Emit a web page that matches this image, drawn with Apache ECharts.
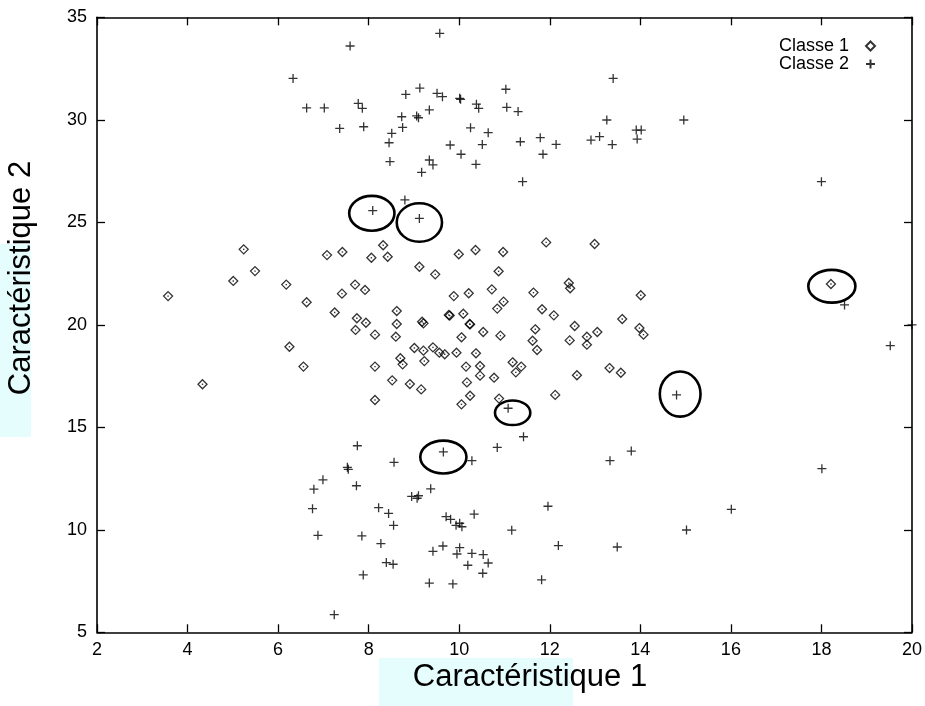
<!DOCTYPE html>
<html>
<head>
<meta charset="utf-8">
<script src="https://cdn.jsdelivr.net/npm/echarts@6/dist/echarts.min.js"></script>
<style>html,body{margin:0;padding:0;background:#fff}#c{width:925px;height:706px}</style>
</head>
<body>
<div id="c"></div>
<script>
// ---------- data ----------
const xTitle = 'Caractéristique 1';
const yTitle = 'Caractéristique 2';
const seriesNames = ['Classe 1', 'Classe 2'];

const classe1 = [
[3.57,21.40],[4.33,17.10],[5.24,23.68],[5.49,22.62],[5.01,22.14],[6.18,21.96],[6.63,21.10],[6.25,18.93],[6.56,17.96],
[7.08,23.40],[7.42,23.55],[8.06,23.27],[8.32,23.88],[8.42,23.32],[7.70,21.96],[7.92,21.70],[7.41,21.52],[7.25,20.60],
[7.74,20.32],[7.94,20.10],[7.71,19.75],[8.14,19.52],[8.14,17.96],[8.14,16.33],[8.52,17.29],
[9.99,23.44],[10.36,23.65],[10.97,23.55],[11.92,24.02],[12.99,23.94],[9.12,22.83],[9.47,22.46],[10.87,22.61],
[12.42,22.04],[12.45,21.78],[11.64,21.57],[10.72,21.73],[9.88,21.40],[10.21,21.54],[10.98,21.13],[10.84,20.79],
[11.83,20.76],[12.09,20.46],[14.01,21.44],[8.62,20.67],[8.62,20.04],[8.60,19.42],[9.18,20.15],[9.21,20.07],
[9.77,20.48],[9.79,20.45],[10.09,20.54],[10.23,20.04],[10.24,20.02],[13.60,20.28],[13.98,19.84],[14.07,19.52],
[12.55,19.94],[11.68,19.78],[10.53,19.65],[10.05,19.39],[10.91,19.47],[11.62,19.22],[11.72,18.77],[12.44,19.24],
[12.82,19.42],[12.82,19.03],[13.05,19.65],[9.01,18.87],[9.21,18.74],[9.42,18.90],[9.56,18.64],[9.68,18.56],
[9.94,18.64],[10.37,18.61],[8.70,18.37],[8.75,18.07],[9.23,18.23],[10.15,17.96],[10.46,17.99],[10.46,17.52],
[10.77,17.42],[11.18,18.17],[11.37,17.96],[11.25,17.68],[12.60,17.54],[13.32,17.89],[13.57,17.66],[8.91,17.11],
[9.16,16.85],[10.17,17.19],[10.24,16.54],[10.05,16.12],[10.88,16.40],[12.12,16.58],[18.21,21.99]
];

const classe2 = [
[7.59,33.60],[6.33,32.02],[6.63,30.58],[7.02,30.58],[7.77,30.80],[7.86,30.56],[7.36,29.58],[7.89,29.66],
[9.57,34.22],[8.82,31.24],[9.13,31.55],[9.51,31.29],[9.63,31.13],[10.01,31.05],[10.03,31.00],[10.38,30.76],
[10.43,30.56],[11.03,31.49],[11.05,30.61],[11.30,30.40],[8.73,30.15],[9.06,30.19],[9.10,30.10],[9.34,30.48],
[8.75,29.63],[8.51,29.34],[8.45,28.88],[8.47,27.96],[10.25,29.61],[10.64,29.37],[9.80,28.77],[10.51,28.79],
[10.04,28.32],[9.34,28.04],[9.42,27.80],[10.37,27.83],[9.17,27.44],[11.35,28.93],[11.79,29.13],[11.85,28.32],
[12.14,28.80],[11.40,26.98],[13.40,32.02],[13.26,29.99],[12.91,29.01],[13.10,29.18],[13.38,28.79],[13.91,29.50],
[14.02,29.50],[13.93,29.06],[8.80,26.09],[14.96,29.99],[18.00,26.98],
[8.09,25.57],[9.12,25.19],[11.08,15.93],[14.80,16.58],[9.65,13.80],
[18.51,20.97],[19.52,18.98],[20.00,20.00],
[7.75,14.10],[7.53,13.05],[7.55,12.95],[6.99,12.44],[6.79,11.98],[7.73,12.15],[6.76,11.03],[6.88,9.73],
[7.85,9.70],[8.22,11.08],[8.44,10.80],[8.27,9.33],[8.39,8.40],[7.88,7.80],[7.24,5.86],
[8.56,13.29],[10.28,13.37],[10.84,14.02],[11.42,14.54],[9.37,12.00],[8.95,11.63],[9.10,11.66],[9.07,11.54],
[8.55,10.22],[8.54,8.32],[9.71,10.64],[9.81,10.51],[9.93,10.22],[10.01,10.32],[10.06,10.15],[10.33,10.76],
[9.42,8.95],[9.64,9.21],[10.01,9.13],[9.95,8.82],[10.28,8.85],[10.53,8.79],[10.64,8.38],[10.19,8.27],
[10.52,7.88],[9.34,7.40],[9.86,7.36],[11.16,9.98],[11.96,11.15],[12.19,9.23],[11.82,7.56],[13.33,13.37],
[13.80,13.84],[13.49,9.16],[18.01,12.98],[16.01,11.00],[15.02,9.99]
];

// highlighted points: [centerX, centerY, radiusX, radiusY] in data units
const ellipses = [
[8.07,25.44,0.50,0.85],
[9.12,24.99,0.50,0.94],
[18.23,21.88,0.52,0.80],
[14.88,16.62,0.45,1.10],
[11.18,15.71,0.39,0.60],
[9.65,13.55,0.51,0.80]
];

const xMin = 2, xMax = 20, xStep = 2;
const yMin = 5, yMax = 35, yStep = 5;

// ---------- chart ----------
const FONT = '"Liberation Sans", Arial, Helvetica, sans-serif';
const chart = echarts.init(document.getElementById('c'), null, {renderer: 'canvas'});

const axisCommon = {
  axisLine: {show: true, onZero: false, lineStyle: {color: '#000', width: 1.6}},
  axisTick: {show: true, inside: true, length: 8, lineStyle: {color: '#000', width: 1.3}},
  splitLine: {show: false}
};

const option = {
  backgroundColor: '#fff',
  animation: false,
  grid: {left: 97, right: 12.5, top: 17.3, bottom: 73.7, containLabel: false},
  xAxis: [
    Object.assign({type: 'value', min: xMin, max: xMax, interval: xStep, position: 'bottom',
      axisLabel: {color: '#000', fontSize: 18, fontFamily: FONT, margin: 9}}, axisCommon),
    Object.assign({type: 'value', min: xMin, max: xMax, interval: xStep, position: 'top',
      axisLabel: {show: false}}, axisCommon)
  ],
  yAxis: [
    Object.assign({type: 'value', min: yMin, max: yMax, interval: yStep, position: 'left',
      axisLabel: {color: '#000', fontSize: 18, fontFamily: FONT, margin: 10}}, axisCommon),
    Object.assign({type: 'value', min: yMin, max: yMax, interval: yStep, position: 'right',
      axisLabel: {show: false}}, axisCommon)
  ],
  legend: {
    orient: 'vertical', right: 44, top: 32, align: 'right',
    itemWidth: 9, itemHeight: 9, itemGap: 0,
    textStyle: {color: '#000', fontSize: 18, fontFamily: FONT, lineHeight: 17, padding: [0, 12, 0, 0]},
    data: seriesNames
  },
  graphic: [
    {type: 'rect', silent: true, z: -10, shape: {x: 379, y: 658, width: 194, height: 48}, style: {fill: '#e5fdfd'}},
    {type: 'rect', silent: true, z: -10, shape: {x: 0, y: 244, width: 31, height: 193}, style: {fill: '#e5fdfd'}},
    {type: 'text', z: 10, x: 530, y: 677, style: {text: xTitle, fill: '#000', font: '31px ' + FONT, textAlign: 'center', textVerticalAlign: 'middle'}},
    {type: 'text', z: 10, x: 21, y: 278, rotation: Math.PI / 2, style: {text: yTitle, fill: '#000', font: '31px ' + FONT, textAlign: 'center', textVerticalAlign: 'middle'}}
  ],
  series: [
    {
      name: seriesNames[0], type: 'scatter', data: classe1,
      symbol: 'diamond', symbolSize: 9,
      itemStyle: {color: 'rgba(0,0,0,0)', borderColor: '#000', borderWidth: 1.3}
    },
    {
      name: 'centres', type: 'scatter', data: classe1, silent: true,
      symbol: 'rect', symbolSize: 1.4, itemStyle: {color: '#000'}
    },
    {
      name: seriesNames[1], type: 'scatter', data: classe2,
      symbol: 'path://M0,5L10,5M5,0L5,10', symbolSize: 9,
      itemStyle: {color: 'rgba(0,0,0,0)', borderColor: '#000', borderWidth: 1.3}
    },
    {
      name: 'cercles', type: 'custom', data: ellipses, silent: true, clip: false,
      renderItem: function (params, api) {
        const c = api.coord([api.value(0), api.value(1)]);
        const s = api.size([api.value(2), api.value(3)]);
        return {type: 'ellipse', shape: {cx: c[0], cy: c[1], rx: s[0], ry: s[1]},
          style: {fill: 'none', stroke: '#000', lineWidth: 2.6}};
      }
    }
  ]
};
chart.setOption(option);
</script>
</body>
</html>
